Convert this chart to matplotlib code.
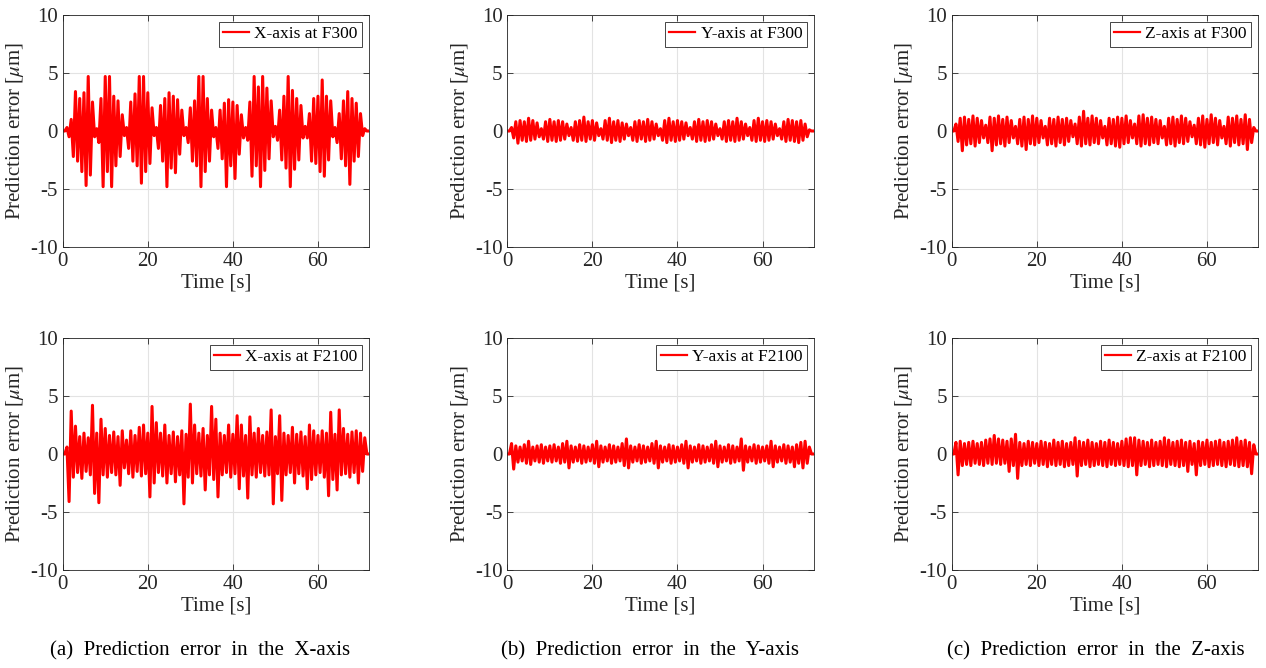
import numpy as np
import matplotlib
matplotlib.use('Agg')
import matplotlib.pyplot as plt

plt.rcParams['font.family'] = ['Liberation Serif', 'DejaVu Serif']
plt.rcParams['mathtext.fontset'] = 'stix'
plt.rcParams['axes.unicode_minus'] = False

# Error peaks [um]: "hi" = upper peak at each whole second,
# "lo" = lower peak half a second later.
x_f300_hi = [0, 0.3, 1.0, 3.4, 2.8, 3.3, 4.7, 2.5, 0.2, 2.8,
             4.7, 4.7, 3.0, 2.6, 1.4, 0.3, 2.5, 3.2, 4.7, 4.7,
             3.3, 2.0, 0.3, 2.2, 2.8, 3.3, 3.0, 2.7, 1.8, 0.3,
             2.0, 2.6, 4.7, 4.7, 2.8, 1.8, 0.3, 1.8, 2.4, 2.7,
             2.5, 2.2, 1.4, 0.3, 2.5, 4.7, 3.8, 4.7, 3.7, 2.6,
             0.4, 1.8, 3.0, 4.7, 3.5, 2.8, 2.2, 0.4, 1.5, 2.8,
             3.0, 4.4, 3.0, 2.6, 0.3, 1.5, 2.6, 3.4, 2.8, 2.4,
             1.5, 0.2, 0]
x_f300_lo = [0, -0.5, -2.2, -2.6, -3.5, -4.7, -3.8, -0.5, -1.0, -4.8,
             -3.5, -4.8, -3.0, -2.2, -0.4, -1.5, -2.6, -3.0, -4.5, -3.5,
             -2.8, -0.4, -1.5, -2.6, -4.8, -3.2, -3.6, -2.0, -0.4, -1.0,
             -2.6, -3.0, -4.8, -3.5, -2.6, -0.5, -1.5, -2.4, -4.8, -3.0,
             -4.1, -2.0, -0.6, -0.8, -3.9, -3.0, -4.8, -3.4, -2.4, -0.5,
             -0.8, -2.5, -3.2, -4.8, -3.3, -2.5, -0.6, -0.6, -2.6, -2.8,
             -3.5, -3.9, -2.5, -0.5, -1.0, -2.4, -3.0, -4.6, -2.6, -2.2,
             -0.4, 0]

y_f300_hi = [0, 0.3, 0.8, 0.9, 0.8, 1.1, 0.9, 0.7, 0.2, 0.8,
             1.0, 0.8, 0.9, 0.8, 0.6, 0.3, 0.8, 0.9, 1.2, 0.8,
             0.9, 0.7, 0.2, 0.9, 1.1, 0.8, 0.9, 0.7, 0.6, 0.3,
             0.8, 0.9, 0.8, 1.0, 0.8, 0.6, 0.2, 0.9, 1.1, 0.8,
             0.9, 0.8, 0.7, 0.3, 0.8, 1.0, 0.8, 0.9, 0.8, 0.6,
             0.2, 0.8, 0.9, 0.8, 1.1, 0.8, 0.6, 0.3, 0.9, 1.1,
             0.8, 0.9, 0.8, 0.6, 0.2, 0.8, 1.0, 0.9, 0.8, 0.9,
             0.6, 0.1, 0]
y_f300_lo = [0, -0.6, -1.05, -0.8, -0.9, -0.8, -0.7, -0.5, -0.7, -0.9,
             -0.8, -0.9, -0.8, -0.7, -0.4, -0.8, -0.9, -0.8, -0.9, -0.7,
             -0.8, -0.4, -0.7, -0.8, -1.0, -0.8, -0.9, -0.7, -0.4, -0.8,
             -0.9, -0.7, -0.9, -0.8, -0.7, -0.4, -0.8, -1.0, -0.8, -0.9,
             -0.8, -0.7, -0.4, -0.7, -0.9, -0.8, -0.9, -0.8, -0.7, -0.4,
             -0.7, -0.9, -0.8, -0.9, -0.8, -0.7, -0.4, -0.8, -0.9, -0.8,
             -0.9, -0.8, -0.7, -0.4, -0.7, -0.9, -0.8, -0.9, -1.0, -0.8,
             -0.5, 0]

z_f300_hi = [0, 0.6, 1.1, 1.2, 1.0, 1.3, 1.1, 0.9, 0.5, 1.2,
             1.1, 1.3, 1.0, 1.2, 0.9, 0.4, 1.0, 1.2, 1.0, 1.3,
             1.1, 0.9, 0.4, 1.1, 1.0, 1.2, 1.0, 1.1, 0.9, 0.6,
             1.2, 1.7, 1.1, 1.3, 1.1, 0.9, 0.4, 1.1, 1.0, 1.2,
             1.1, 1.3, 0.9, 0.6, 1.3, 1.4, 1.1, 1.2, 1.0, 0.9,
             0.4, 1.1, 1.2, 1.0, 1.3, 1.1, 0.8, 0.5, 1.1, 1.3,
             1.0, 1.4, 1.1, 0.9, 0.4, 1.2, 1.1, 1.3, 1.0, 1.4,
             1.0, 0.3, 0]
z_f300_lo = [0, -0.9, -1.7, -1.2, -1.1, -1.3, -1.0, -0.6, -1.0, -1.7,
             -1.2, -1.1, -1.3, -1.0, -0.6, -1.1, -1.3, -1.6, -1.1, -1.2,
             -1.0, -0.6, -1.2, -1.1, -1.3, -1.0, -1.2, -0.9, -0.5, -1.1,
             -1.3, -1.1, -1.2, -1.0, -1.1, -0.6, -1.2, -1.1, -1.3, -1.4,
             -1.1, -1.0, -0.6, -1.1, -1.3, -1.1, -1.2, -1.0, -1.1, -0.6,
             -1.2, -1.1, -1.3, -1.0, -1.1, -0.9, -0.5, -1.1, -1.2, -1.4,
             -1.1, -1.0, -1.2, -0.6, -1.1, -1.3, -1.0, -1.2, -1.1, -1.6,
             -1.0, 0]

x_f2100_hi = [0, 0.6, 3.7, 2.4, 1.5, 1.8, 1.4, 4.2, 1.8, 3.0,
              2.2, 1.6, 1.9, 1.5, 2.0, 1.2, 2.0, 1.6, 2.3, 2.5,
              1.8, 4.1, 2.7, 1.8, 2.5, 1.6, 1.9, 1.5, 2.0, 1.7,
              4.3, 2.5, 1.8, 2.2, 1.6, 4.1, 3.0, 1.8, 1.6, 2.5,
              1.7, 3.3, 2.5, 1.6, 3.2, 1.8, 2.2, 1.6, 1.9, 3.8,
              1.5, 3.3, 1.8, 1.6, 2.3, 1.7, 1.9, 1.5, 2.5, 2.0,
              1.6, 2.0, 1.8, 3.6, 1.7, 3.8, 2.2, 1.7, 1.9, 2.0,
              1.8, 1.4, 0]
x_f2100_lo = [0, -4.1, -2.0, -1.6, -2.1, -1.5, -1.8, -3.4, -4.2, -1.8,
              -2.0, -1.6, -1.8, -2.7, -1.2, -1.7, -2.0, -1.5, -1.9, -1.7,
              -3.7, -2.5, -1.6, -1.9, -2.5, -1.7, -2.4, -1.8, -4.3, -2.0,
              -2.5, -1.7, -1.9, -3.1, -1.8, -2.2, -3.7, -1.8, -1.6, -2.0,
              -1.7, -3.0, -1.9, -3.8, -1.8, -2.0, -1.6, -1.9, -1.8, -4.3,
              -1.7, -4.0, -1.8, -1.6, -2.5, -1.7, -1.9, -3.0, -2.2, -1.8,
              -1.6, -2.0, -3.6, -2.2, -3.1, -1.8, -1.7, -2.0, -1.6, -2.5,
              -1.5, 0]

y_f2100_hi = [0, 0.9, 0.7, 0.6, 0.8, 1.1, 0.6, 0.7, 0.8, 0.6,
              0.7, 0.8, 0.6, 0.9, 1.1, 0.7, 0.6, 0.8, 0.7, 0.6,
              0.8, 1.1, 0.7, 0.6, 0.8, 0.7, 0.6, 0.9, 1.3, 0.7,
              0.6, 0.8, 0.7, 0.6, 0.9, 1.1, 0.7, 0.6, 0.8, 0.7,
              0.6, 0.8, 1.1, 0.7, 0.6, 0.8, 0.7, 0.6, 0.8, 1.1,
              0.7, 0.6, 0.8, 0.7, 0.6, 1.3, 0.7, 0.6, 0.8, 0.7,
              0.6, 0.7, 1.1, 0.7, 0.6, 0.8, 0.7, 0.6, 0.8, 1.0,
              1.1, 0.6, 0]
y_f2100_lo = [0, -1.3, -0.7, -0.6, -0.8, -0.9, -0.6, -0.7, -0.8, -0.6,
              -0.7, -0.6, -0.8, -0.7, -1.2, -0.7, -0.6, -0.8, -0.7, -0.6,
              -0.8, -1.1, -0.7, -0.6, -0.8, -0.7, -0.6, -1.0, -1.2, -0.7,
              -0.6, -0.8, -0.7, -0.6, -0.8, -1.2, -0.7, -0.6, -0.8, -0.7,
              -0.6, -0.8, -1.2, -0.7, -0.6, -0.8, -0.7, -0.6, -0.8, -1.1,
              -0.7, -0.6, -0.8, -0.7, -0.6, -1.4, -0.7, -0.6, -0.8, -0.7,
              -0.6, -0.8, -1.1, -0.7, -0.6, -0.8, -0.7, -1.1, -0.8, -1.2,
              -0.8, 0]

z_f2100_hi = [0, 1.0, 1.1, 0.9, 1.0, 1.1, 0.9, 1.0, 1.2, 1.3,
              1.6, 1.3, 1.2, 1.1, 1.3, 1.7, 1.0, 0.9, 1.1, 1.0,
              0.9, 1.1, 1.0, 0.9, 1.2, 1.0, 1.1, 0.9, 1.0, 1.4,
              1.1, 1.0, 1.2, 1.0, 0.9, 1.1, 1.0, 1.2, 1.0, 0.9,
              1.1, 1.3, 1.4, 1.4, 1.2, 1.1, 1.0, 1.2, 1.0, 1.1,
              1.4, 1.2, 1.0, 1.1, 1.2, 1.0, 1.1, 0.9, 1.1, 1.0,
              1.2, 1.0, 1.1, 1.2, 1.0, 1.1, 1.2, 1.4, 1.1, 1.2,
              1.0, 0.8, 0]
z_f2100_lo = [0, -1.8, -1.0, -0.9, -1.0, -0.8, -0.9, -1.0, -0.8, -0.9,
              -0.8, -0.9, -0.8, -1.5, -1.0, -2.1, -1.0, -0.9, -1.0, -0.8,
              -1.0, -0.9, -1.1, -0.9, -1.0, -0.9, -1.1, -1.0, -0.9, -1.9,
              -1.0, -0.9, -1.1, -1.0, -0.9, -1.0, -1.1, -0.9, -1.0, -0.9,
              -1.0, -1.1, -1.0, -1.8, -1.0, -0.9, -1.1, -1.0, -0.9, -1.0,
              -1.1, -0.9, -1.0, -1.1, -1.0, -1.5, -0.9, -1.8, -1.0, -0.9,
              -1.1, -1.0, -0.9, -1.0, -1.1, -0.9, -1.0, -1.1, -1.0, -1.1,
              -1.7, 0]

panels = [
    [('X-axis at F300', x_f300_hi, x_f300_lo),
     ('Y-axis at F300', y_f300_hi, y_f300_lo),
     ('Z-axis at F300', z_f300_hi, z_f300_lo)],
    [('X-axis at F2100', x_f2100_hi, x_f2100_lo),
     ('Y-axis at F2100', y_f2100_hi, y_f2100_lo),
     ('Z-axis at F2100', z_f2100_hi, z_f2100_lo)],
]
captions = ['(a)  Prediction  error  in  the  X-axis',
            '(b)  Prediction  error  in  the  Y-axis',
            '(c)  Prediction  error  in  the  Z-axis']


def trace(hi, lo):
    t = np.concatenate([np.arange(len(hi)), np.arange(len(lo)) + 0.5])
    v = np.concatenate([hi, lo])
    order = np.argsort(t, kind='stable')
    return t[order], v[order]


W, H = 1266, 668
fig = plt.figure(figsize=(W / 100, H / 100), dpi=100)

lefts = [62.7, 507.3, 951.7]
tops = [15, 338]
ax_w, ax_h = 306.3, 232

axis_color = '#262626'
for r, row in enumerate(panels):
    for c, (label, hi, lo) in enumerate(row):
        ax = fig.add_axes([lefts[c] / W, 1 - (tops[r] + ax_h) / H, ax_w / W, ax_h / H])
        t, v = trace(hi, lo)
        ax.plot(t, v, color='#ff0000', lw=2.2, label=label)
        ax.set_xlim(0, 72)
        ax.set_ylim(-10, 10)
        ax.set_xticks([0, 20, 40, 60])
        ax.set_yticks([-10, -5, 0, 5, 10])
        ax.grid(True, color='#e3e3e3', lw=0.8)
        ax.set_axisbelow(True)
        ax.tick_params(direction='in', length=4, width=0.6, top=True, right=True,
                       labelsize=15, colors=axis_color)
        for s in ax.spines.values():
            s.set_color(axis_color)
            s.set_linewidth(0.6)
        ax.set_xlabel('Time [s]', fontsize=15, color=axis_color, labelpad=2)
        ax.set_ylabel(r'Prediction error [$\mu$m]', fontsize=15, color=axis_color,
                      labelpad=3)
        leg = ax.legend(loc='upper right', fontsize=12.5, fancybox=False,
                        handlelength=1.5, handletextpad=0.3, borderpad=0.25,
                        borderaxespad=0.4, framealpha=1)
        leg.get_frame().set_edgecolor(axis_color)
        leg.get_frame().set_linewidth(0.6)
        for line in leg.get_lines():
            line.set_linewidth(1.6)

for cx, text in zip([200, 650, 1096], captions):
    fig.text(cx / W, 1 - 651 / H, text, ha='center', va='center', fontsize=15)

fig.savefig('out.png', dpi=100)
